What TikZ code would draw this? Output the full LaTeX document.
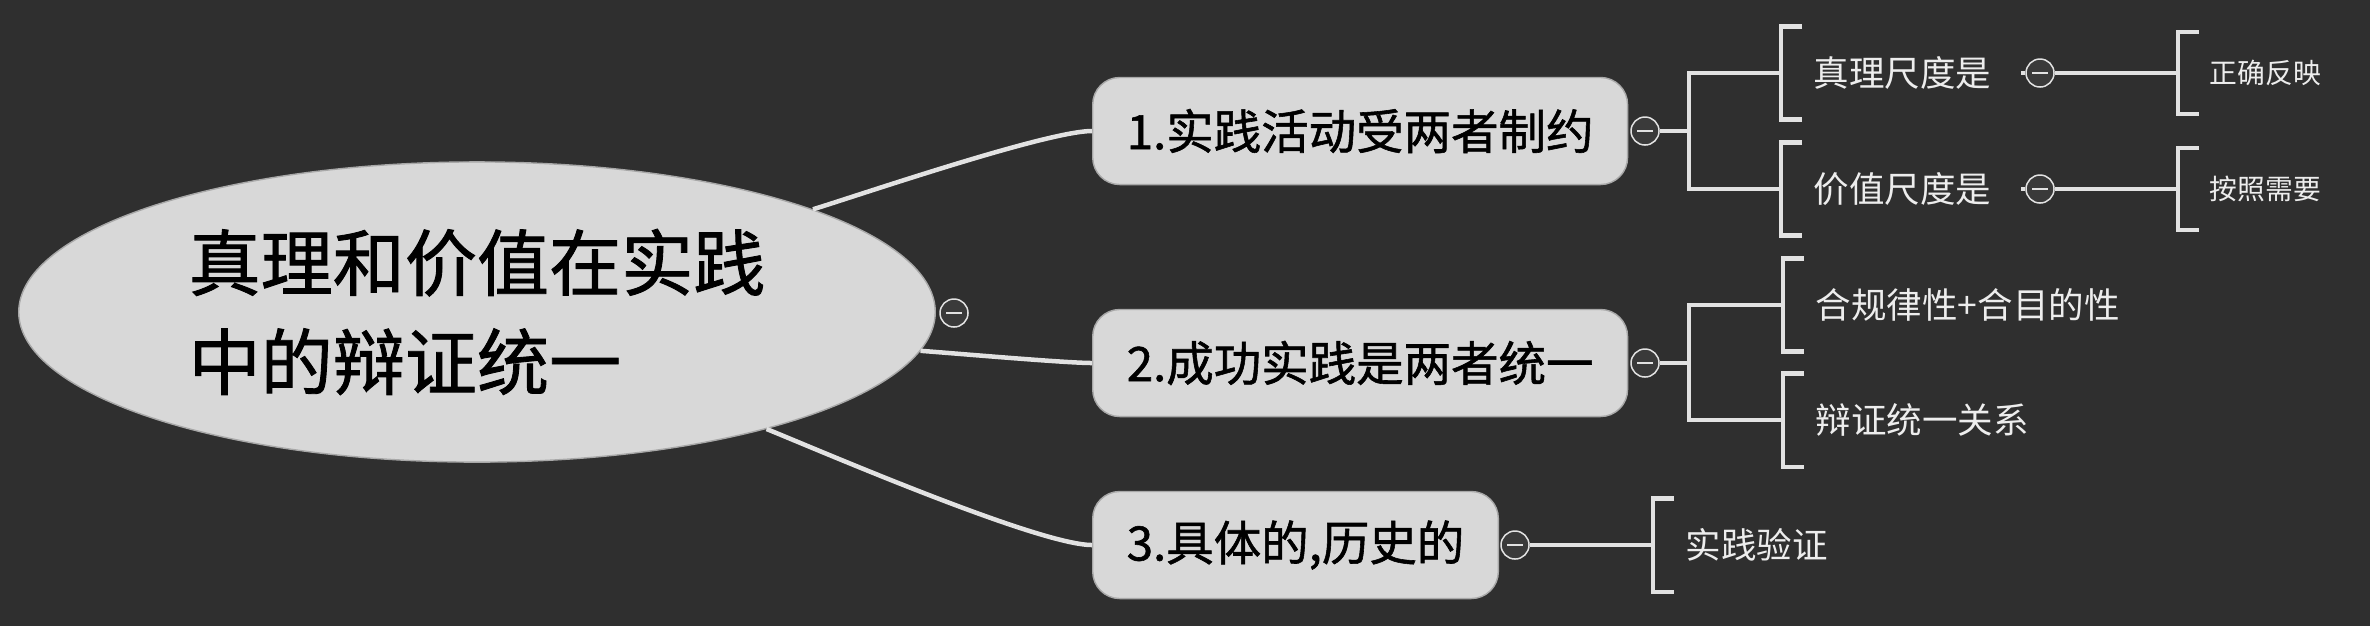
\documentclass[tikz,border=0pt]{standalone}
\usepackage{fontspec}
\newfontfamily\cjk{Noto Sans CJK SC}
\newfontfamily\cjkheavy[FakeBold = 1.2]{Noto Sans CJK SC}
\usetikzlibrary{shapes.geometric}
\definecolor{bg}{HTML}{2F2F2F}
\definecolor{boxgray}{HTML}{D8D8D8}
\definecolor{boxedge}{HTML}{A8A8A8}
\definecolor{linegray}{HTML}{E2E2E2}
\definecolor{foldgray}{HTML}{3A3A3A}
\definecolor{textwhite}{HTML}{EDEDED}

\begin{document}
\begin{tikzpicture}[x = 0.01cm, y = 0.01cm,
                        link/.style = {draw = linegray, line width = 0.045cm},
                        root/.style = {ellipse, draw = boxedge, fill = boxgray, minimum width = 9.16cm, minimum height = 3cm, inner sep = 0pt, align = left, font = \cjkheavy\fontsize{20.5}{28.2}\selectfont},
                        topic/.style = {rounded corners = 0.27cm, draw = boxedge, fill = boxgray, anchor = west, minimum height = 1.07cm, inner xsep = 0.34cm, font = \cjkheavy\fontsize{13.5}{16}\selectfont},
                        fold/.style = {circle, draw = linegray, fill = foldgray, line width = 0.015cm, minimum size = 0.28cm, inner sep = 0pt,
                          path picture = {\draw [linegray, line width = 0.018cm] ([xshift = -0.08cm]path picture bounding box.center) -- ([xshift = 0.08cm]path picture bounding box.center);}},
                        sub/.style = {anchor = west, text = textwhite, minimum height = 0.92cm, inner xsep = 0.32cm, font = \cjk\fontsize{10.1}{12}\selectfont},
                        leaf/.style = {sub, minimum height = 0.81cm, inner xsep = 0.31cm, font = \cjk\fontsize{7.9}{10}\selectfont}]
      \fill [bg] (0, 0) rectangle (2370, -626);
      \node [root] (r) at (477, -312){真理和价值在实践\\中的辩证统一};
      \node [topic] (b1) at (1092, -131){1.实践活动受两者制约};
      \node [topic] (b2) at (1092, -363){2.成功实践是两者统一};
      \node [topic] (b3) at (1092, -545){3.具体的,历史的};
      \node [fold] (m0) at (954, -313){};
      \node [fold] (m1) at (1645, -131){};
      \node [fold] (m2) at (1645, -363){};
      \node [fold] (m3) at (1515, -545){};
      \node [sub] (c1) at (1781, -73){真理尺度是};
      \node [sub] (c2) at (1781, -189){价值尺度是};
      \node [sub] (c3) at (1783, -305){合规律性+合目的性};
      \node [sub] (c4) at (1783, -420){辩证统一关系};
      \node [sub] (c5) at (1653, -545){实践验证};
      \node [fold] (m4) at (2040, -73){};
      \node [fold] (m5) at (2040, -189){};
      \node [leaf] (d1) at (2178, -73){正确反映};
      \node [leaf] (d2) at (2178, -189){按照需要};
      \draw [link] (r.17) to [out = 17, in = 180, looseness = 0.4] (b1.west);
      \draw [link] (r.-5) to [out = -4, in = 180, looseness = 0.4] (b2.west);
      \draw [link] (r.-22.6) to [out = -22, in = 180, looseness = 0.4] (b3.west);
      \draw [link] (m1.east) -- ++(29, 0) coordinate (j1);
      \draw [link] (j1) |- (c1.west);
      \draw [link] (j1) |- (c2.west);
      \draw [link] (m2.east) -- ++(29, 0) coordinate (j2);
      \draw [link] (j2) |- (c3.west);
      \draw [link] (j2) |- (c4.west);
      \draw [link] (m3.east) -- (c5.west);
      \draw [link] (m4.east) -- (d1.west);
      \draw [link] (m5.east) -- (d2.west);
      \draw [link] (m4.west) -- ++(-4, 0);
      \draw [link] (m5.west) -- ++(-4, 0);
      \foreach \c in {c1, c2, c3, c4, c5, d1, d2}
        \draw [link] ([xshift = 0.21cm]\c.north west) -- (\c.north west) -- (\c.south west) -- ([xshift = 0.21cm]\c.south west);
    \end{tikzpicture}
\end{document}
